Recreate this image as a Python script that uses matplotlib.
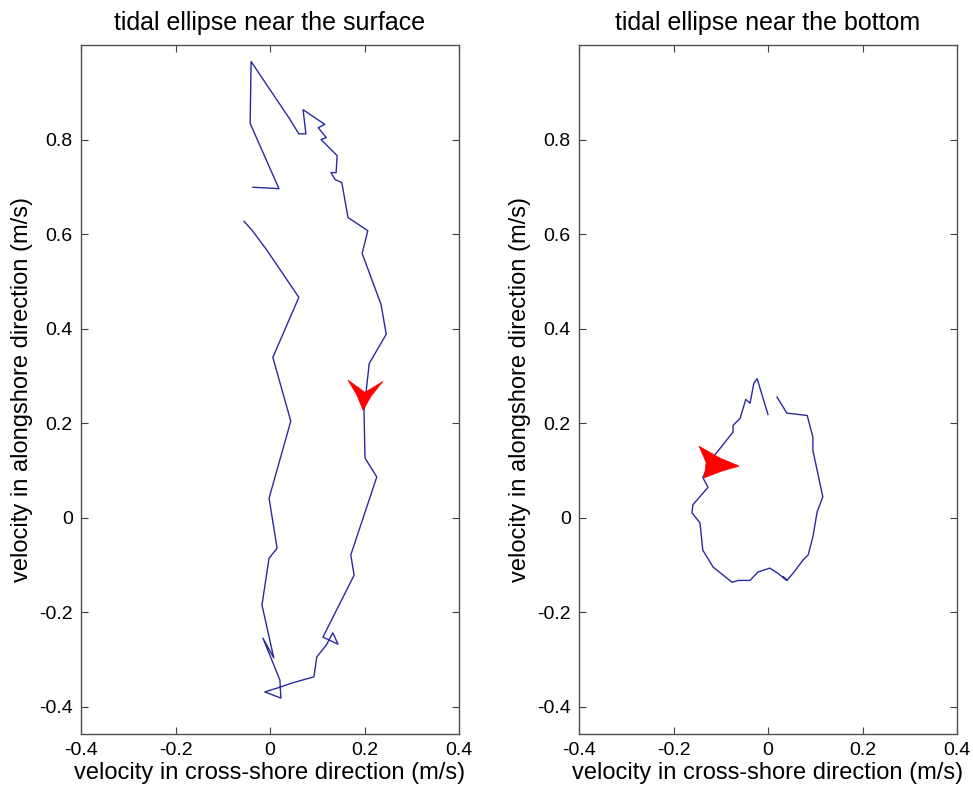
import numpy as np
import matplotlib
matplotlib.use('Agg')
import matplotlib.pyplot as plt
from matplotlib.patches import Polygon

plt.rcParams['font.family'] = ['Liberation Sans', 'DejaVu Sans']

# velocity trace near the surface (cross-shore u, alongshore v) in m/s
u_surf = [-0.036, 0.019, -0.042, -0.040, 0.040, 0.061, 0.076, 0.070, 0.116, 0.102,
          0.119, 0.108, 0.142, 0.140, 0.129, 0.138, 0.152, 0.165, 0.207, 0.195,
          0.235, 0.246, 0.210, 0.199, 0.201, 0.226, 0.171, 0.178, 0.112, 0.144,
          0.133, 0.119, 0.099, 0.093, 0.047, 0.021, -0.011, 0.023, 0.021, -0.015,
          0.008, -0.017, -0.002, 0.015, -0.002, 0.044, 0.006, 0.061, -0.006, -0.038,
          -0.055]
v_surf = [0.699, 0.696, 0.834, 0.965, 0.846, 0.812, 0.812, 0.863, 0.832, 0.825,
          0.804, 0.800, 0.766, 0.730, 0.730, 0.715, 0.709, 0.635, 0.607, 0.559,
          0.451, 0.388, 0.326, 0.227, 0.126, 0.086, -0.079, -0.122, -0.253, -0.268,
          -0.244, -0.270, -0.295, -0.337, -0.350, -0.359, -0.369, -0.382, -0.344, -0.255,
          -0.297, -0.185, -0.086, -0.065, 0.041, 0.204, 0.339, 0.466, 0.565, 0.608,
          0.627]

# velocity trace near the bottom
u_bot = [0.019, 0.040, 0.083, 0.095, 0.095, 0.116, 0.104, 0.095, 0.085, 0.074,
         0.053, 0.040, 0.032, 0.040, 0.021, 0.004, -0.021, -0.038, -0.063, -0.076,
         -0.116, -0.138, -0.144, -0.161, -0.159, -0.127, -0.138, -0.116, -0.074, -0.074,
         -0.059, -0.047, -0.038, -0.030, -0.023, 0.000]
v_bot = [0.255, 0.221, 0.216, 0.170, 0.142, 0.044, 0.012, -0.041, -0.079, -0.090,
         -0.118, -0.133, -0.125, -0.133, -0.118, -0.107, -0.115, -0.133, -0.133, -0.137,
         -0.105, -0.069, -0.011, 0.010, 0.027, 0.064, 0.085, 0.128, 0.181, 0.195,
         0.210, 0.250, 0.242, 0.284, 0.294, 0.218]

# arrowheads showing the sense of rotation
arrow_surf_u = [0.165, 0.184, 0.197, 0.214, 0.239, 0.201]
arrow_surf_v = [0.291, 0.259, 0.227, 0.257, 0.288, 0.265]
arrow_bot_u = [-0.146, -0.102, -0.061, -0.099, -0.135, -0.131]
arrow_bot_v = [0.151, 0.126, 0.109, 0.098, 0.084, 0.117]

xticks = [-0.4, -0.2, 0, 0.2, 0.4]
yticks = [-0.4, -0.2, 0, 0.2, 0.4, 0.6, 0.8]
ticklabels_x = ['-0.4', '-0.2', '0', '0.2', '0.4']
ticklabels_y = ['-0.4', '-0.2', '0', '0.2', '0.4', '0.6', '0.8']

fig = plt.figure(figsize=(9.73, 7.96), dpi=100)
ax1 = fig.add_axes([81/973, 62/796, 378/973, 689/796])
ax2 = fig.add_axes([579/973, 62/796, 378/973, 689/796])

panels = [(ax1, u_surf, v_surf, arrow_surf_u, arrow_surf_v, 'tidal ellipse near the surface'),
          (ax2, u_bot, v_bot, arrow_bot_u, arrow_bot_v, 'tidal ellipse near the bottom')]

for ax, u, v, au, av, title in panels:
    ax.plot(u, v, color='#2a2aa0', lw=1.0)
    ax.add_patch(Polygon(np.column_stack([au, av]), closed=True,
                         facecolor='#ff0000', edgecolor='#ff0000', lw=0.5, zorder=3))
    ax.set_xlim(-0.4, 0.4)
    ax.set_ylim(-0.458, 1.0)
    ax.set_xticks(xticks)
    ax.set_xticklabels(ticklabels_x)
    ax.set_yticks(yticks)
    ax.set_yticklabels(ticklabels_y)
    ax.tick_params(direction='in', top=True, right=True, length=5, width=0.8,
                   color='#404040', labelsize=14, pad=6)
    for s in ax.spines.values():
        s.set_color('#505050')
        s.set_linewidth(1.0)
    ax.set_title(title, fontsize=18, pad=11)
    ax.set_xlabel('velocity in cross-shore direction (m/s)', fontsize=17, labelpad=2)
    ax.set_ylabel('velocity in alongshore direction (m/s)', fontsize=17, labelpad=4)

fig.savefig('out.png', dpi=100)
